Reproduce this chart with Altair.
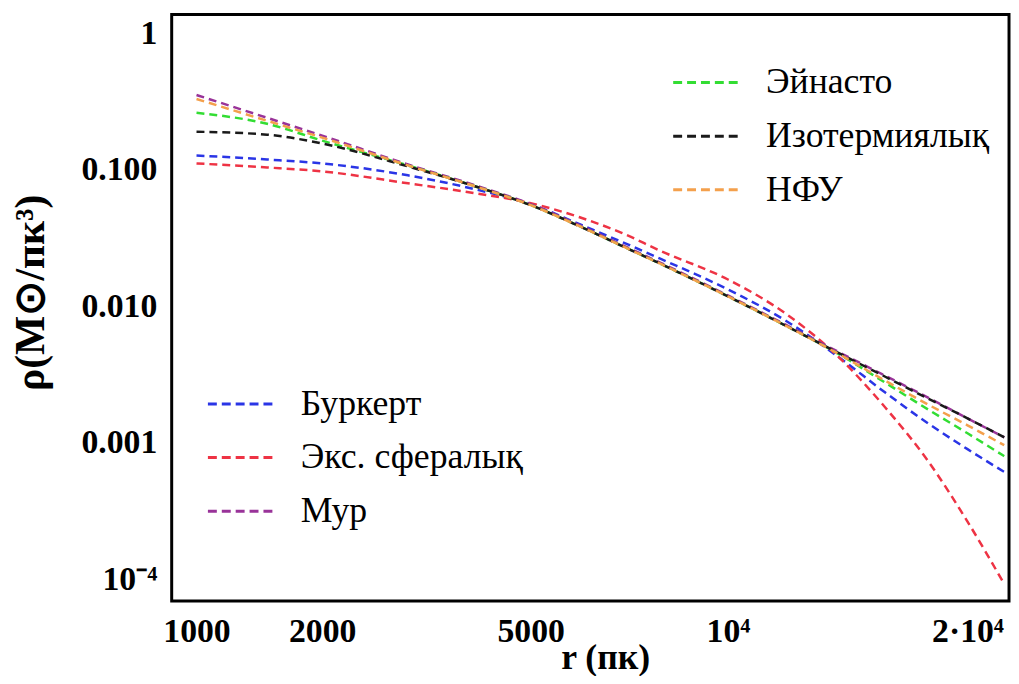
import altair as alt
import pandas as pd

# radius samples (pc)
r_pc = [1000, 1500, 2000, 3000, 4000, 5000, 6000, 7000, 8000,
        10000, 12000, 14000, 16000, 18000, 20000, 22000]

# densities (M_sun / pc^3)
rho_einasto = [0.2620, 0.2179, 0.1639, 0.1078, 0.07586, 0.05517, 0.03882, 0.02777,
               0.02054, 0.01182, 0.007153, 0.004476, 0.002754, 0.001752, 0.001172, 0.0007975]
rho_isothermal = [0.1905, 0.1812, 0.1559, 0.1060, 0.07586, 0.05517, 0.03882, 0.02777,
                  0.02054, 0.01182, 0.007153, 0.004551, 0.003045, 0.002107, 0.001508, 0.001096]
rho_nfw = [0.3311, 0.2291, 0.1723, 0.1078, 0.07586, 0.05517, 0.03882, 0.02777,
           0.02054, 0.01182, 0.007153, 0.004476, 0.002848, 0.001905, 0.001341, 0.0009590]
rho_burkert = [0.1275, 0.1192, 0.1115, 0.09120, 0.07215, 0.05611, 0.04014, 0.02970,
               0.02234, 0.01329, 0.007778, 0.004256, 0.002330, 0.001386, 0.0008968, 0.0006103]
rho_exp = [0.1115, 0.1042, 0.09752, 0.07975, 0.06748, 0.05706, 0.04512, 0.03453,
           0.02554, 0.01572, 0.008748, 0.004256, 0.001812, 0.0007337, 0.0002641, 0.00009197]
rho_moore = [0.3540, 0.2409, 0.1781, 0.1096, 0.07714, 0.05611, 0.03948, 0.02824,
             0.02089, 0.01202, 0.007274, 0.004628, 0.003096, 0.002142, 0.001508, 0.001096]

names_top = ["Эйнасто", "Изотермиялық", "НФУ"]
colors_top = ["#33dd33", "#1a1a1a", "#f4a04c"]
series_top = [rho_einasto, rho_isothermal, rho_nfw]

names_bottom = ["Буркерт", "Экс. сфералық", "Мур"]
colors_bottom = ["#2a35e6", "#ee3344", "#993399"]
series_bottom = [rho_burkert, rho_exp, rho_moore]

x_ticks = [1000, 2000, 5000, 10000, 20000]
y_ticks = [1, 0.1, 0.01, 0.001, 0.0001]


def make_df(names, series):
    rows = []
    for name, vals in zip(names, series):
        for r, v in zip(r_pc, vals):
            rows.append({"r": r, "rho": v, "model": name})
    return pd.DataFrame(rows)


df_top = make_df(names_top, series_top)
df_bottom = make_df(names_bottom, series_bottom)

SERIF = "Liberation Serif"

x_enc = alt.X(
    "r:Q",
    scale=alt.Scale(type="pow", exponent=0.28, domain=[857, 22270], nice=False, zero=False),
    axis=alt.Axis(
        values=x_ticks,
        labelExpr="datum.value >= 15000 ? '2·10⁴' : datum.value >= 9000 ? '10⁴' : format(datum.value, 'd')",
        title="r (пк)",
        titleX=437, titleY=57, titleBaseline="middle", titleAlign="center",
        grid=False, ticks=False, domain=False,
        labelFont=SERIF, labelFontWeight="bold", labelFontSize=34, labelColor="black",
        labelPadding=14, labelFlush=False, labelOverlap=False,
        titleFont=SERIF, titleFontWeight="bold", titleFontSize=36, titleColor="black",
    ),
)

y_enc = alt.Y(
    "rho:Q",
    scale=alt.Scale(type="log", domain=[6.92e-5, 1.375], nice=False),
    axis=alt.Axis(
        values=y_ticks,
        labelExpr="datum.value > 0.5 ? '1' : datum.value > 0.05 ? '0.100' : datum.value > 0.005 ? '0.010' : datum.value > 0.0005 ? '0.001' : '10⁻⁴'",
        title="ρ(M⊙/пк³)",
        titleX=-142, titleY=280, titleAngle=-90, titleBaseline="middle", titleAlign="center",
        grid=False, ticks=False, domain=False,
        labelFont=SERIF, labelFontWeight="bold", labelFontSize=34, labelColor="black",
        labelPadding=15, labelFlush=False, labelOverlap=False,
        titleFont=SERIF, titleFontWeight="bold", titleFontSize=42, titleColor="black",
    ),
)


def legend(x, y, row_pad):
    return alt.Legend(
        orient="none", legendX=x, legendY=y, title=None, padding=0,
        symbolType="stroke", symbolDash=[9, 5], symbolStrokeWidth=3, symbolSize=4624,
        labelFont=SERIF, labelFontSize=36, labelColor="black", labelLimit=500,
        rowPadding=row_pad, labelOffset=24,
    )


line_kw = dict(strokeDash=[8, 5], strokeWidth=2.5, interpolate="monotone", clip=True)

bottom_layer = alt.Chart(df_bottom).mark_line(**line_kw).encode(
    x=x_enc, y=y_enc,
    color=alt.Color("model:N",
                    scale=alt.Scale(domain=names_bottom, range=colors_bottom),
                    sort=names_bottom, legend=legend(35, 357, -4)),
    detail="model:N",
)

top_layer = alt.Chart(df_top).mark_line(**line_kw).encode(
    x=x_enc, y=y_enc,
    color=alt.Color("model:N",
                    scale=alt.Scale(domain=names_top, range=colors_top),
                    sort=names_top, legend=legend(504, 33, -2)),
    detail="model:N",
)

chart = (
    alt.layer(bottom_layer, top_layer)
    .resolve_scale(color="independent")
    .properties(
        width=844, height=591,
        autosize=alt.AutoSizeParams(type="none"),
        padding={"left": 165, "top": 4, "right": 2, "bottom": 73},
        background="white",
    )
    .configure_view(stroke="black", strokeWidth=3)
)

chart.save("out.html", embed_options={"renderer": "svg", "actions": False})
